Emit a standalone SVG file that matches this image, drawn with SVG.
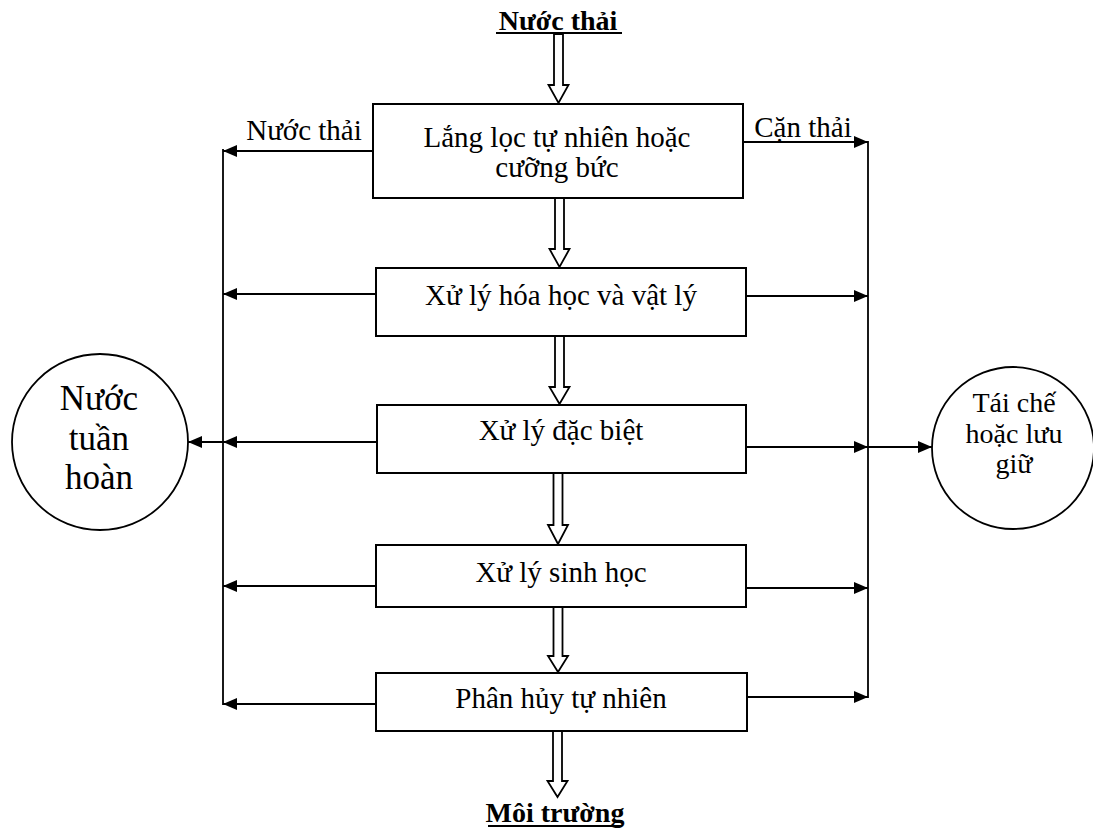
<svg xmlns="http://www.w3.org/2000/svg" width="1093" height="829" viewBox="0 0 1093 829">
  <style>
    .box { fill: #fff; stroke: #000; stroke-width: 2; }
    .circ { fill: #fff; stroke: #000; stroke-width: 1.8; }
    .t { font-family: "Liberation Serif", "Times New Roman", serif; font-size: 29px; fill: #000; text-anchor: middle; }
    .title { font-family: "Liberation Serif", "Times New Roman", serif; font-size: 28px; font-weight: bold; fill: #000; text-anchor: middle; }
    .big { font-size: 35px; }
    .line { fill: none; stroke: #000; stroke-width: 1.8; }
    .arr { fill: none; stroke: #000; stroke-width: 1.8; marker-end: url(#head); }
    .flow { fill: #fff; stroke: #000; stroke-width: 1.8; stroke-linejoin: miter; }
  </style>
  <defs>
    <marker id="head" viewBox="0 0 14 12" refX="14" refY="6" markerWidth="14" markerHeight="12" markerUnits="userSpaceOnUse" orient="auto">
      <path d="M0,0 L14,6 L0,12 Z" fill="#000"/>
    </marker>
  </defs>
  <rect width="1093" height="829" fill="#fff"/>

  <!-- titles -->
  <g id="input">
    <text class="title" x="558" y="30">Nước thải</text>
    <line class="line" x1="496" y1="33" x2="622" y2="33"/>
  </g>
  <g id="output">
    <text class="title" x="555" y="822">Môi trường</text>
    <line class="line" x1="488" y1="826" x2="622" y2="826"/>
  </g>

  <!-- treatment stages -->
  <g id="stage1">
    <rect class="box" x="373" y="104" width="370" height="94"/>
    <text class="t" x="557" y="147">Lắng lọc tự nhiên hoặc</text>
    <text class="t" x="557" y="177">cưỡng bức</text>
  </g>
  <g id="stage2">
    <rect class="box" x="376" y="268" width="370" height="68"/>
    <text class="t" x="561" y="305">Xử lý hóa học và vật lý</text>
  </g>
  <g id="stage3">
    <rect class="box" x="377" y="405" width="369" height="68"/>
    <text class="t" x="561" y="440">Xử lý đặc biệt</text>
  </g>
  <g id="stage4">
    <rect class="box" x="376" y="545" width="370" height="62"/>
    <text class="t" x="561" y="582">Xử lý sinh học</text>
  </g>
  <g id="stage5">
    <rect class="box" x="376" y="673" width="371" height="58"/>
    <text class="t" x="561" y="708">Phân hủy tự nhiên</text>
  </g>

  <!-- end points -->
  <g id="recycled-water">
    <circle class="circ" cx="100" cy="442" r="88"/>
    <text class="t big" x="99" y="410">Nước</text>
    <text class="t big" x="99" y="450">tuần</text>
    <text class="t big" x="99" y="489">hoàn</text>
  </g>
  <g id="reuse-storage">
    <circle class="circ" cx="1013" cy="448" r="81"/>
    <text class="t" x="1014" y="412" style="font-size:28px">Tái chế</text>
    <text class="t" x="1014" y="443" style="font-size:28px">hoặc lưu</text>
    <text class="t" x="1014" y="473" style="font-size:28px">giữ</text>
  </g>

  <!-- connectors -->
  <g id="connectors">
    <!-- main flow (hollow block arrows) -->
    <polygon class="flow" points="554,34 563,34 563,85 568.5,85 558.5,103 548.5,85 554,85"/>
    <polygon class="flow" points="555,198 564,198 564,249 569.5,249 559.5,267 549.5,249 555,249"/>
    <polygon class="flow" points="555,336 564,336 564,387 569.5,387 559.5,404 549.5,387 555,387"/>
    <polygon class="flow" points="553.5,473 562.5,473 562.5,525 568,525 558,544 548,525 553.5,525"/>
    <polygon class="flow" points="553.5,607 562.5,607 562.5,656 568,656 558,672 548,656 553.5,656"/>
    <polygon class="flow" points="553,731 562,731 562,781 567.5,781 557.5,797 547.5,781 553,781"/>

    <!-- water collector (left) -->
    <line class="line" x1="223" y1="149" x2="223" y2="705"/>
    <line class="arr" x1="373" y1="151" x2="223" y2="151"/>
    <line class="arr" x1="376" y1="294" x2="223" y2="294"/>
    <line class="arr" x1="377" y1="442" x2="223" y2="442"/>
    <line class="arr" x1="376" y1="586" x2="223" y2="586"/>
    <line class="arr" x1="376" y1="704" x2="223" y2="704"/>
    <line class="arr" x1="223" y1="442" x2="188" y2="442"/>
    <text class="t" x="304" y="140">Nước thải</text>

    <!-- sludge collector (right) -->
    <line class="line" x1="868" y1="141" x2="868" y2="698"/>
    <line class="arr" x1="743" y1="142" x2="868" y2="142"/>
    <line class="arr" x1="746" y1="296" x2="868" y2="296"/>
    <line class="arr" x1="746" y1="447" x2="868" y2="447"/>
    <line class="arr" x1="746" y1="588" x2="868" y2="588"/>
    <line class="arr" x1="747" y1="697" x2="868" y2="697"/>
    <line class="arr" x1="868" y1="447" x2="932" y2="447"/>
    <text class="t" x="803" y="137">Cặn thải</text>
  </g>
</svg>
